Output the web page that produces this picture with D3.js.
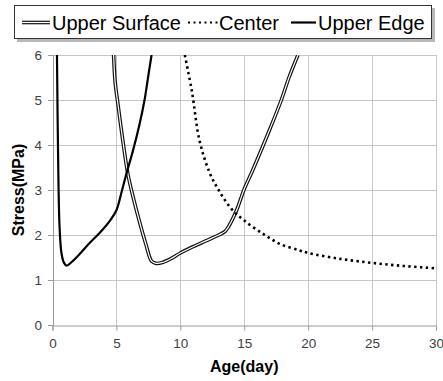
<!DOCTYPE html>
<html><head><meta charset="utf-8">
<script src="https://cdn.jsdelivr.net/npm/d3@7"></script>
<style>body{margin:0;background:#fff}svg{display:block}</style>
</head><body>
<svg id="c" width="443" height="381"></svg>
<script>
const seriesNames = ["Upper Surface", "Center", "Upper Edge"];
const xTicks = [0, 5, 10, 15, 20, 25, 30];
const yTicks = [0, 1, 2, 3, 4, 5, 6];
const surfaceX = [4.78, 4.9, 5.1, 5.5, 5.9, 6.3, 6.8, 7.3, 7.75, 8.1, 8.6, 9.3, 10.0, 11.0, 12.0, 13.0, 13.5, 13.8, 14.4, 15.0, 15.6, 16.2, 17.0, 17.9, 18.5, 19.2];
const surfaceY = [6.0, 5.4, 4.95, 4.1, 3.35, 2.85, 2.3, 1.8, 1.42, 1.37, 1.39, 1.48, 1.6, 1.74, 1.87, 2.0, 2.08, 2.2, 2.55, 3.02, 3.4, 3.8, 4.35, 5.0, 5.5, 6.0];
const centerX = [10.35, 10.9, 11.5, 12.3, 13.1, 14.0, 15.0, 16.5, 17.8, 19.3, 20, 22.5, 25, 27.5, 30];
const centerY = [6.0, 5.2, 4.1, 3.38, 2.95, 2.58, 2.32, 2.02, 1.8, 1.66, 1.6, 1.47, 1.38, 1.31, 1.26];
const edgeX = [0.35, 0.45, 0.55, 0.7, 0.9, 1.1, 1.5, 2.2, 2.9, 3.7, 4.5, 5.0, 5.4, 5.8, 6.3, 6.8, 7.2, 7.5, 7.75];
const edgeY = [6.0, 3.5, 2.2, 1.6, 1.38, 1.32, 1.4, 1.6, 1.82, 2.05, 2.32, 2.55, 2.95, 3.38, 3.88, 4.45, 5.0, 5.55, 6.0];

const svg = d3.select("#c");
const L = 52.5, R = 436, T = 55, B = 325;
const x = d3.scaleLinear().domain([0, 30]).range([L, R]);
const y = d3.scaleLinear().domain([0, 6]).range([B, T]);
const font = "'Liberation Sans', Arial, sans-serif";

// gridlines
svg.append("g").selectAll("line.v").data(xTicks.slice(1)).join("line")
  .attr("x1", d => Math.round(x(d)) + 0.5).attr("x2", d => Math.round(x(d)) + 0.5)
  .attr("y1", T).attr("y2", B).attr("stroke", "#c6c6c6").attr("stroke-width", 1);
svg.append("g").selectAll("line.h").data(yTicks.slice(1)).join("line")
  .attr("x1", L).attr("x2", R)
  .attr("y1", d => Math.round(y(d)) + 0.5).attr("y2", d => Math.round(y(d)) + 0.5)
  .attr("stroke", "#c6c6c6").attr("stroke-width", 1);

// axes
const xAxis = svg.append("g").attr("transform", `translate(0,${B + 0.5})`)
  .call(d3.axisBottom(x).tickValues(xTicks).tickFormat(d3.format("d")).tickSize(5).tickPadding(8));
const yAxis = svg.append("g").attr("transform", `translate(${L + 0.5},0)`)
  .call(d3.axisLeft(y).tickValues(yTicks).tickFormat(d3.format("d")).tickSize(5).tickPadding(6));
[xAxis, yAxis].forEach(a => {
  a.select(".domain").attr("stroke", "#9a9a9a");
  a.selectAll(".tick line").attr("stroke", "#9a9a9a");
  a.selectAll(".tick text").attr("fill", "#404040").style("font-family", font).style("font-size", "13.5px");
});

// series
svg.append("defs").append("clipPath").attr("id", "pa")
  .append("rect").attr("x", L).attr("y", T).attr("width", R - L).attr("height", B - T);
const line = d3.line().x(d => x(d[0])).y(d => y(d[1])).curve(d3.curveCatmullRom.alpha(0.5));
const g = svg.append("g").attr("clip-path", "url(#pa)");
const surf = d3.zip(surfaceX, surfaceY), cen = d3.zip(centerX, centerY), edge = d3.zip(edgeX, edgeY);
g.append("path").attr("d", line(surf)).attr("fill", "none").attr("stroke", "#111").attr("stroke-width", 3.6);
g.append("path").attr("d", line(surf)).attr("fill", "none").attr("stroke", "#fff").attr("stroke-width", 1.2);
g.append("path").attr("d", line(cen)).attr("fill", "none").attr("stroke", "#000").attr("stroke-width", 2.6)
  .attr("stroke-dasharray", "2.4 3.4");
g.append("path").attr("d", line(edge)).attr("fill", "none").attr("stroke", "#000").attr("stroke-width", 2.2);

// axis titles
svg.append("text").attr("x", (L + R) / 2).attr("y", 372).attr("text-anchor", "middle")
  .style("font-family", font).style("font-size", "16px").style("font-weight", "bold").attr("fill", "#000").text("Age(day)");
svg.append("text").attr("transform", "translate(24,190) rotate(-90)").attr("text-anchor", "middle")
  .style("font-family", font).style("font-size", "16px").style("font-weight", "bold").attr("fill", "#000").text("Stress(MPa)");

// legend
const lg = svg.append("g");
lg.append("rect").attr("x", 17).attr("y", 8).attr("width", 418).attr("height", 34).attr("fill", "#9a9a9a").attr("opacity", 0.7);
lg.append("rect").attr("x", 14.5).attr("y", 5.5).attr("width", 417).attr("height", 33).attr("fill", "#fff").attr("stroke", "#333").attr("stroke-width", 1);
const items = [{x1: 22, x2: 50, tx: 52}, {x1: 188, x2: 218, tx: 219}, {x1: 291, x2: 316, tx: 318}];
const ly = 22.5;
lg.append("line").attr("x1", items[0].x1).attr("x2", items[0].x2).attr("y1", ly).attr("y2", ly).attr("stroke", "#111").attr("stroke-width", 3.6);
lg.append("line").attr("x1", items[0].x1).attr("x2", items[0].x2).attr("y1", ly).attr("y2", ly).attr("stroke", "#fff").attr("stroke-width", 1.2);
lg.append("line").attr("x1", items[1].x1).attr("x2", items[1].x2).attr("y1", ly).attr("y2", ly).attr("stroke", "#000").attr("stroke-width", 2).attr("stroke-dasharray", "2 3.5");
lg.append("line").attr("x1", items[2].x1).attr("x2", items[2].x2).attr("y1", ly).attr("y2", ly).attr("stroke", "#000").attr("stroke-width", 2.2);
lg.selectAll("text").data(seriesNames).join("text")
  .attr("x", (d, i) => items[i].tx).attr("y", 29.5)
  .style("font-family", font).style("font-size", "20px").attr("fill", "#000").text(d => d);
</script>
</body></html>
